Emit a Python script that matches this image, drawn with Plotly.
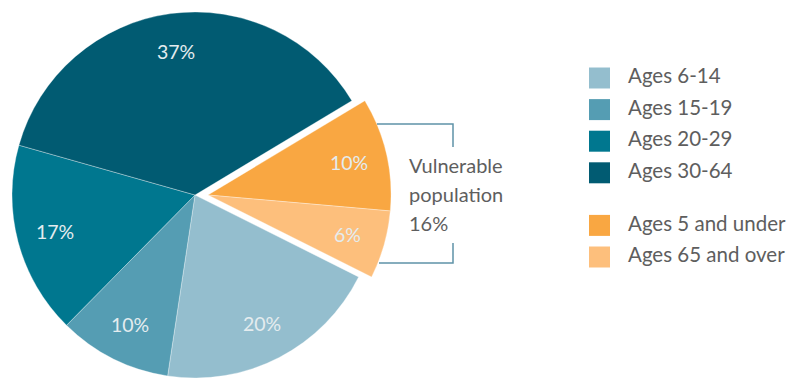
import math
import plotly.graph_objects as go

# Age breakdown of the population (percent), in clockwise slice order
labels = ["Ages 5 and under", "Ages 65 and over", "Ages 6-14", "Ages 15-19", "Ages 20-29", "Ages 30-64"]
shares = [10, 6, 20, 10, 17, 37]
colors = ["#f9a742", "#fdbf7c", "#94bece", "#559db3", "#00778f", "#015b72"]
vulnerable = [True, True, False, False, False, False]

# Legend rows: first group, then the vulnerable group
legend_main = ["Ages 6-14", "Ages 15-19", "Ages 20-29", "Ages 30-64"]
legend_vuln = ["Ages 5 and under", "Ages 65 and over"]

vulnerable_title = ["Vulnerable", "population"]

W, H = 796, 378
R = 183            # pie radius, px
CX, CY = 195, 195  # pie centre, px from top-left
PULL_DX = 13       # horizontal offset of the vulnerable wedge, px
ROTATION = 59      # start angle, degrees clockwise from 12 o'clock
FONT = "Lato"
TEXT_GREY = "#5e5e5e"
BRACKET = "#5f93a8"
CLEAR = "rgba(0,0,0,0)"


def pie_domain(cx, cy):
    return dict(x=[(cx - R) / W, (cx + R) / W],
                y=[1 - (cy + R) / H, 1 - (cy - R) / H])


def wedge_trace(show_vulnerable, cx):
    shown = [v == show_vulnerable for v in vulnerable]
    return go.Pie(
        labels=labels,
        values=shares,
        sort=False,
        direction="clockwise",
        rotation=ROTATION,
        domain=pie_domain(cx, CY),
        textinfo="none",
        hoverinfo="label+percent",
        marker=dict(
            colors=[c if s else CLEAR for c, s in zip(colors, shown)],
            line=dict(color="rgba(255,255,255,0.55)",
                      width=[0.6 if s else 0 for s in shown]),
        ),
        showlegend=False,
    )


fig = go.Figure()
fig.add_trace(wedge_trace(False, CX))
fig.add_trace(wedge_trace(True, CX + PULL_DX))

# Percent labels placed along each slice's bisector
total = sum(shares)
annotations = []
cum = 0
for lab, v, vul in zip(labels, shares, vulnerable):
    mid = math.radians(ROTATION + 360 * (cum + v / 2) / total)
    cum += v
    cx = CX + (PULL_DX if vul else 0)
    px = cx + 0.79 * R * math.sin(mid)
    py = CY - 0.79 * R * math.cos(mid)
    annotations.append(dict(
        x=px / W, y=1 - py / H, xref="paper", yref="paper",
        text=f"{v}%", showarrow=False, xanchor="center", yanchor="middle",
        font=dict(family=FONT, size=19.5, color="#e4ecef"),
    ))

# Vulnerable population callout
vuln_total = sum(v for v, vul in zip(shares, vulnerable) if vul)
callout_lines = vulnerable_title + [f"{vuln_total}%"]
for i, line in enumerate(callout_lines):
    y_px = 165 + 29 * i
    annotations.append(dict(
        x=407 / W, y=1 - y_px / H, xref="paper", yref="paper",
        text=line, showarrow=False, xanchor="left", yanchor="middle",
        font=dict(family=FONT, size=20, color=TEXT_GREY),
    ))

shapes = []
for pts in ([(377, 124), (453, 124), (453, 147)],
            [(379, 263), (453, 263), (453, 243)]):
    path = "M " + " L ".join(f"{x / W},{1 - y / H}" for x, y in pts)
    shapes.append(dict(type="path", path=path, xref="paper", yref="paper",
                       line=dict(color=BRACKET, width=1.5)))

# Legend built as a small scatter on its own pixel-scaled axes
legend_rows = legend_main + legend_vuln
color_of = dict(zip(labels, colors))
row_y = []
for i, lab in enumerate(legend_rows):
    gap = 21 if lab in legend_vuln else 0
    row_y.append(78 + 31.6 * i + gap)

fig.add_trace(go.Scatter(
    x=[599.5] * len(legend_rows), y=row_y, mode="markers",
    marker=dict(symbol="square", size=21, color=[color_of[l] for l in legend_rows],
                line=dict(width=0)),
    hoverinfo="skip", showlegend=False, cliponaxis=False,
))
fig.add_trace(go.Scatter(
    x=[628] * len(legend_rows), y=row_y, mode="text", text=legend_rows,
    textposition="middle right",
    textfont=dict(family=FONT, size=20.5, color=TEXT_GREY),
    hoverinfo="skip", showlegend=False, cliponaxis=False,
))

fig.update_layout(
    width=W, height=H,
    margin=dict(l=0, r=0, t=0, b=0),
    paper_bgcolor="white", plot_bgcolor="white",
    showlegend=False,
    xaxis=dict(range=[0, W], domain=[0, 1], visible=False, fixedrange=True),
    yaxis=dict(range=[H, 0], domain=[0, 1], visible=False, fixedrange=True),
    annotations=annotations,
    shapes=shapes,
    font=dict(family=FONT),
)

fig.write_html("out.html")
